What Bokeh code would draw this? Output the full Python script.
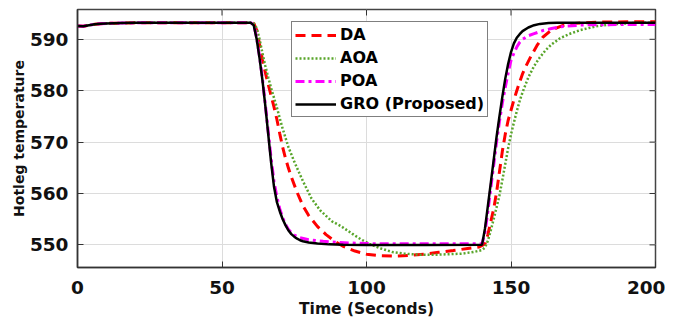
from bokeh.plotting import figure
from bokeh.models import Range1d, FixedTicker, Legend, LegendItem
from bokeh.embed import file_html
from bokeh.resources import INLINE

# ---------------- data ----------------
x_ticks = [0, 50, 100, 150, 200]
y_ticks = [550, 560, 570, 580, 590]
x_lim = [0, 200]
y_lim = [545.6, 595.8]

t_da = [0, 2, 4, 6, 8, 10, 15, 20, 40, 60, 61, 62, 63, 64, 65, 66, 67, 68, 69, 70, 71, 72, 73, 74, 76, 78, 80,
        83, 86, 89, 92, 96, 100, 105, 110, 115, 120, 125, 130, 135, 139, 141, 142, 143, 144, 145, 146, 147, 148,
        149, 150, 151, 152, 153, 154, 155, 157, 159, 161, 164, 168, 172, 180, 190, 200]
y_da = [592.6, 592.55, 592.75, 592.95, 593.05, 593.1, 593.15, 593.2, 593.2, 593.2, 593.1, 591.8, 589.0, 586.0,
        583.5, 581.2, 579.0, 576.8, 574.4, 571.6, 569.0, 566.8, 564.9, 563.2, 560.2, 557.6, 555.7, 553.6, 552.0,
        550.7, 549.7, 548.8, 548.2, 547.9, 547.8, 547.95, 548.2, 548.55, 548.9, 549.3, 549.6, 550.2, 552.0, 554.5,
        557.0, 560.2, 564.2, 568.2, 571.5, 574.2, 576.2, 578.2, 580.0, 581.7, 583.3, 584.6, 586.8, 588.8, 590.4,
        591.8, 592.7, 593.1, 593.35, 593.4, 593.4]

t_aoa = [0, 2, 4, 6, 8, 10, 15, 20, 40, 60, 61, 62, 63, 64, 65, 66, 67, 68, 69, 70, 71, 72, 73, 75, 78, 81, 84,
         88, 91, 95, 98, 101, 105, 109, 113, 118, 125, 133, 137, 140, 141, 142, 143, 144, 145, 146, 147, 148, 149,
         150, 151, 152, 153, 154, 156, 158, 160, 162, 164, 167, 170, 174, 180, 187, 193, 200]
y_aoa = [592.6, 592.55, 592.75, 592.95, 593.05, 593.1, 593.15, 593.2, 593.2, 593.2, 593.1, 592.2, 590.0, 587.3,
         584.8, 582.6, 580.5, 578.6, 576.7, 574.6, 572.6, 570.8, 569.0, 566.2, 562.4, 559.0, 556.7, 554.6, 553.7,
         552.2, 551.1, 550.2, 549.3, 548.6, 548.3, 548.1, 548.1, 548.3, 548.6, 549.0, 549.5, 550.8, 552.8, 555.0,
         557.3, 559.6, 562.6, 565.7, 568.8, 571.5, 573.8, 576.0, 578.0, 579.7, 582.6, 584.8, 586.5, 587.9, 589.0,
         590.2, 591.0, 591.8, 592.6, 593.0, 593.2, 593.2]

t_poa = [0, 2, 4, 6, 8, 10, 15, 20, 40, 60, 61, 62, 63, 64, 65, 66, 67, 68, 69, 70, 71, 72, 73, 74, 75, 77, 80,
         85, 90, 95, 100, 120, 140, 141, 142, 143, 144, 145, 146, 147, 148, 149, 150, 151, 152, 153, 154, 156,
         158, 161, 164, 168, 175, 190, 200]
y_poa = [592.6, 592.55, 592.75, 592.95, 593.05, 593.1, 593.15, 593.2, 593.2, 593.2, 592.8, 590.3, 586.6, 582.3,
         577.3, 572.0, 566.8, 562.3, 559.3, 557.0, 555.3, 554.0, 553.0, 552.4, 551.9, 551.4, 551.0, 550.7, 550.5,
         550.35, 550.25, 550.2, 550.2, 552.5, 556.5, 561.0, 565.5, 570.0, 574.0, 577.6, 580.6, 583.4, 585.9, 587.3,
         588.5, 589.4, 590.0, 590.7, 591.1, 591.7, 592.1, 592.5, 592.8, 592.9, 592.9]

t_gro = [0, 2, 4, 6, 8, 10, 15, 20, 40, 60, 61, 62, 63, 64, 65, 66, 67, 68, 69, 70, 71, 72, 73, 74, 75, 76, 77,
         78, 80, 83, 87, 92, 100, 120, 140, 141, 142, 143, 144, 145, 146, 147, 148, 149, 150, 151, 152, 153, 154,
         156, 158, 160, 163, 166, 170, 180, 200]
y_gro = [592.6, 592.55, 592.75, 592.95, 593.05, 593.1, 593.15, 593.2, 593.2, 593.2, 592.7, 590.0, 586.3, 582.0,
         577.0, 571.5, 566.0, 561.3, 558.3, 556.5, 555.0, 553.8, 552.8, 552.1, 551.6, 551.2, 550.9, 550.7, 550.45,
         550.25, 550.1, 550.05, 550.0, 550.0, 550.05, 553.2, 557.6, 562.0, 566.5, 571.0, 575.0, 578.8, 582.3,
         585.2, 587.5, 589.2, 590.3, 591.0, 591.6, 592.3, 592.75, 593.0, 593.15, 593.2, 593.2, 593.2, 593.2]

labels = ["DA", "AOA", "POA", "GRO (Proposed)"]

FONT = "DejaVu Sans"

p = figure(width=665, height=322, x_range=Range1d(*x_lim), y_range=Range1d(*y_lim),
           output_backend="svg", toolbar_location=None,
           min_border_left=77, min_border_right=10, min_border_top=9, min_border_bottom=55,
           background_fill_color="white", border_fill_color="white")
p.outline_line_color = "#444444"
p.outline_line_width = 1.5

# inward tick marks on the top and right edges of the box
tick_len_x = (y_lim[1] - y_lim[0]) * 6 / 258
tick_len_y = (x_lim[1] - x_lim[0]) * 6 / 578
p.segment(x0=x_ticks, y0=[y_lim[1]] * len(x_ticks), x1=x_ticks, y1=[y_lim[1] - tick_len_x] * len(x_ticks),
          line_color="#333333", line_width=1)
p.segment(x0=[x_lim[1]] * len(y_ticks), y0=y_ticks, x1=[x_lim[1] - tick_len_y] * len(y_ticks), y1=y_ticks,
          line_color="#333333", line_width=1)

r_da = p.line(t_da, y_da, line_color="#ff0000", line_width=3, line_dash="10 6")
r_aoa = p.line(t_aoa, y_aoa, line_color="#58a52a", line_width=2.5, line_dash="2 2")
r_poa = p.line(t_poa, y_poa, line_color="#ff00ff", line_width=3, line_dash="9 4 3 4")
r_gro = p.line(t_gro, y_gro, line_color="#000000", line_width=2.5)

for ax in p.xaxis + p.yaxis:
    ax.axis_line_color = "#333333"
    ax.axis_line_width = 1.5
    ax.major_tick_line_color = "#333333"
    ax.major_tick_in = 6
    ax.major_tick_out = 0
    ax.minor_tick_line_color = None
    ax.major_label_text_font = FONT
    ax.major_label_text_font_style = "bold"
    ax.major_label_text_font_size = "18.5px"
    ax.major_label_text_color = "#111111"
    ax.axis_label_text_font = FONT
    ax.axis_label_text_font_style = "bold"
    ax.axis_label_text_color = "#111111"

p.xaxis.ticker = FixedTicker(ticks=x_ticks)
p.yaxis.ticker = FixedTicker(ticks=y_ticks)
p.xaxis.axis_label = "Time (Seconds)"
p.yaxis.axis_label = "Hotleg temperature"
p.xaxis.axis_label_text_font_size = "15.5px"
p.yaxis.axis_label_text_font_size = "14px"
p.xaxis.major_label_standoff = 13
p.xaxis.axis_label_standoff = 3
p.yaxis.major_label_standoff = 9
p.yaxis.axis_label_standoff = 0

p.xgrid.ticker = FixedTicker(ticks=x_ticks)
p.ygrid.ticker = FixedTicker(ticks=y_ticks)
p.xgrid.grid_line_color = "#dcdcdc"
p.ygrid.grid_line_color = "#dcdcdc"
p.xgrid.grid_line_width = 1
p.ygrid.grid_line_width = 1

legend = Legend(items=[LegendItem(label=labels[0], renderers=[r_da]),
                       LegendItem(label=labels[1], renderers=[r_aoa]),
                       LegendItem(label=labels[2], renderers=[r_poa]),
                       LegendItem(label=labels[3], renderers=[r_gro])],
                location=(214, 150))
legend.label_text_font = FONT
legend.label_text_font_style = "bold"
legend.label_text_font_size = "16px"
legend.label_text_color = "#000000"
legend.glyph_width = 41
legend.glyph_height = 18
legend.label_height = 18
legend.label_standoff = 4
legend.spacing = 4
legend.padding = 3
legend.margin = 0
legend.border_line_color = "#000000"
legend.border_line_width = 1
legend.background_fill_color = "white"
legend.background_fill_alpha = 1
p.add_layout(legend)

open("out.html", "w").write(file_html(p, INLINE))
